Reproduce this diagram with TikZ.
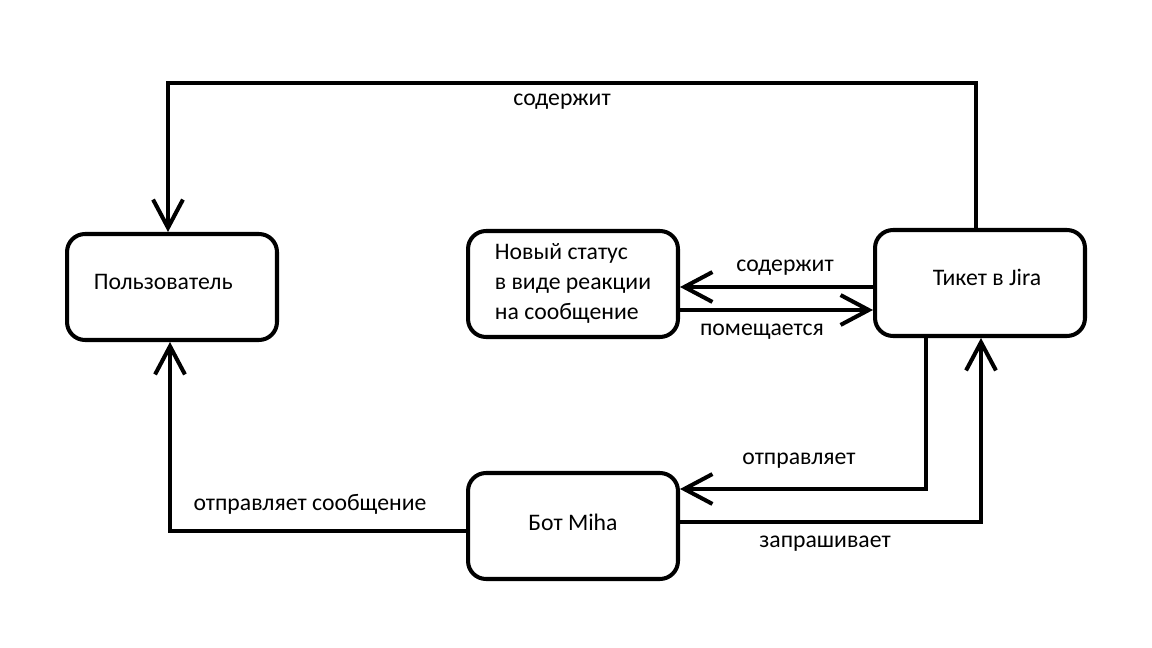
\documentclass[tikz,border=0pt]{standalone}
\usepackage{fontspec}
\setmainfont{Carlito}
\usetikzlibrary{arrows.meta}
\begin{document}
\begin{tikzpicture}[x=0.02cm,y=-0.02cm,
  box/.style={draw, line width=2.3pt, rounded corners=0.36cm, minimum width=4.2cm, minimum height=2.12cm, inner sep=0pt, font=\fontsize{13.5}{16}\selectfont},
  arr/.style={line width=2.3pt, -{Straight Barb[length=16pt,width=17pt]}},
  lbl/.style={font=\fontsize{13.5}{16}\selectfont, inner sep=0pt}]
\useasboundingbox (0,0) rectangle (1152,648);
\fill[white] (0,0) rectangle (1152,648);
% boxes
\node[box] (user) at (172,287) {\raisebox{6pt}{Пользователь\hspace{10pt}}};
\node[box] (status) at (573,284) {\raisebox{0pt}{\begin{tabular}{@{}l@{}}Новый статус\\[1pt] в виде реакции\\[1pt] на сообщение\end{tabular}}\hspace{20pt}};
\node[box] (jira) at (980,283) {\raisebox{6pt}{\hspace{8pt}Тикет в Jira}};
\node[box] (bot) at (573,526) {\raisebox{4pt}{Бот Miha}};
% helper coordinates
\coordinate (t1) at (976,83);
\coordinate (t2) at (168,83);
\coordinate (c1) at (0,287);
\coordinate (c2) at (0,310);
\coordinate (d1) at (926,489);
\coordinate (e1) at (981,522);
\coordinate (f1) at (170,531);
% connectors
\draw[arr] (jira.north -| t1) -- (t1) -- (t2) -- (user.north -| t2);
\draw[arr] (jira.west |- c1) -- (status.east |- c1);
\draw[arr] (status.east |- c2) -- (jira.west |- c2);
\draw[arr] (jira.south -| d1) -- (d1) -- (bot.east |- d1);
\draw[arr] (bot.east |- e1) -- (e1) -- (jira.south -| e1);
\draw[arr] (bot.west |- f1) -- (f1) -- (user.south -| f1);
% labels
\node[lbl] (l1) at (562,102) {содержит};
\node[lbl] (l2) at (785,268) {содержит};
\node[lbl] (l3) at (762,332) {помещается};
\node[lbl] (l4) at (799,461) {отправляет};
\node[lbl] (l5) at (825,544) {запрашивает};
\node[lbl] (l6) at (310,504) {отправляет сообщение};
\end{tikzpicture}
\end{document}
